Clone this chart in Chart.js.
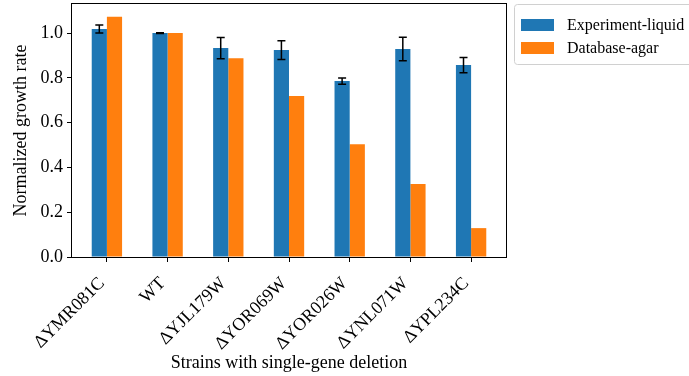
<!DOCTYPE html>
<html>
<head>
<meta charset="utf-8">
<script src="https://cdn.jsdelivr.net/npm/chart.js@4.4.1/dist/chart.umd.min.js"></script>
<style>
  html, body { margin: 0; padding: 0; background: #fff; }
  #wrap { width: 689px; height: 376px; }
</style>
</head>
<body>
<div id="wrap"><canvas id="myChart" width="689" height="376"></canvas></div>
<script>
const cepas = ['ΔYMR081C', 'WT', 'ΔYJL179W', 'ΔYOR069W', 'ΔYOR026W', 'ΔYNL071W', 'ΔYPL234C'];
const liquido = [1.018, 1.0, 0.933, 0.924, 0.786, 0.929, 0.857];
const liquidoError = [0.018, 0.002, 0.047, 0.042, 0.014, 0.052, 0.034];
const agar = [1.073, 1.0, 0.888, 0.719, 0.504, 0.326, 0.129];
const yTicks = [0, 0.2, 0.4, 0.6, 0.8, 1.0];

const fuente = 'Liberation Serif';

// barras de error sobre la serie azul
const errorBars = {
    id: 'errorBars',
    afterDatasetsDraw(chart) {
        const ctx = chart.ctx;
        const y = chart.scales.y;
        const meta = chart.getDatasetMeta(0);
        ctx.save();
        ctx.strokeStyle = '#000';
        ctx.lineWidth = 1.5;
        meta.data.forEach((bar, i) => {
            const top = y.getPixelForValue(liquido[i] + liquidoError[i]);
            const bot = y.getPixelForValue(liquido[i] - liquidoError[i]);
            ctx.beginPath();
            ctx.moveTo(bar.x, top);
            ctx.lineTo(bar.x, bot);
            ctx.moveTo(bar.x - 4, top);
            ctx.lineTo(bar.x + 4, top);
            ctx.moveTo(bar.x - 4, bot);
            ctx.lineTo(bar.x + 4, bot);
            ctx.stroke();
        });
        ctx.restore();
    }
};

// marco y leyenda estilo matplotlib
const marco = {
    id: 'marco',
    afterDraw(chart) {
        const ctx = chart.ctx;
        const a = chart.chartArea;
        ctx.save();
        ctx.strokeStyle = '#000';
        ctx.lineWidth = 1;
        ctx.strokeRect(Math.round(a.left) - 0.5, Math.round(a.top) - 0.5,
            Math.round(a.right - a.left) + 1, Math.round(a.bottom - a.top) + 1);

        const lx = a.right + 8;
        ctx.strokeStyle = '#d0d0d0';
        ctx.beginPath();
        ctx.roundRect(lx + 0.5, 4.5, 190, 60, 3);
        ctx.stroke();
        const items = chart.data.datasets;
        ctx.font = '16px "' + fuente + '"';
        ctx.textBaseline = 'middle';
        items.forEach((ds, i) => {
            const cy = 25 + i * 23;
            ctx.fillStyle = ds.backgroundColor;
            ctx.fillRect(lx + 7, cy - 6, 33, 12);
            ctx.fillStyle = '#000';
            ctx.fillText(ds.label, lx + 53, cy + 1);
        });
        ctx.restore();
    }
};

const ctx = document.getElementById('myChart').getContext('2d');
new Chart(ctx, {
    type: 'bar',
    data: {
        datasets: [{
            label: 'Experiment-liquid',
            data: liquido.map((v, i) => ({ x: i, y: v })),
            backgroundColor: '#1f77b4'
        }, {
            label: 'Database-agar',
            data: agar.map((v, i) => ({ x: i, y: v })),
            backgroundColor: '#ff7f0e'
        }]
    },
    options: {
        responsive: false,
        animation: false,
        categoryPercentage: 0.5,
        barPercentage: 1.0,
        layout: { padding: { top: 4, right: 183, left: 0, bottom: 0 } },
        plugins: {
            legend: { display: false },
            tooltip: { enabled: false }
        },
        scales: {
            x: {
                type: 'linear',
                min: -0.575,
                max: 6.575,
                offset: false,
                afterBuildTicks: (scale) => {
                    scale.ticks = cepas.map((_, i) => ({ value: i }));
                },
                afterFit: (scale) => {
                    scale.height = 119;
                    scale.paddingLeft = 0;
                    scale.paddingRight = 0;
                },
                grid: { offset: false, drawOnChartArea: false, drawTicks: true, tickLength: 5, color: '#000' },
                border: { display: false },
                ticks: {
                    autoSkip: false,
                    minRotation: 45,
                    maxRotation: 45,
                    color: '#000',
                    padding: 11,
                    labelOffset: -5,
                    font: { family: fuente, size: 18 },
                    callback: (v) => cepas[v] ?? ''
                },
                title: {
                    display: true,
                    text: 'Strains with single-gene deletion',
                    color: '#000',
                    font: { family: fuente, size: 18 },
                    padding: { top: 0, bottom: 2 }
                }
            },
            y: {
                min: 0,
                max: 1.13,
                afterBuildTicks: (scale) => {
                    scale.ticks = yTicks.map(v => ({ value: v }));
                },
                afterFit: (scale) => {
                    scale.width = 72;
                    scale.paddingTop = 0;
                    scale.paddingBottom = 0;
                },
                grid: { drawOnChartArea: false, drawTicks: true, tickLength: 5, color: '#000' },
                border: { display: false },
                ticks: {
                    color: '#000',
                    padding: 4,
                    font: { family: fuente, size: 18 },
                    callback: (v) => v.toFixed(1)
                },
                title: {
                    display: true,
                    text: 'Normalized growth rate',
                    color: '#000',
                    font: { family: fuente, size: 18 },
                    padding: { top: 10, bottom: 2 }
                }
            }
        }
    },
    plugins: [errorBars, marco]
});
</script>
</body>
</html>
